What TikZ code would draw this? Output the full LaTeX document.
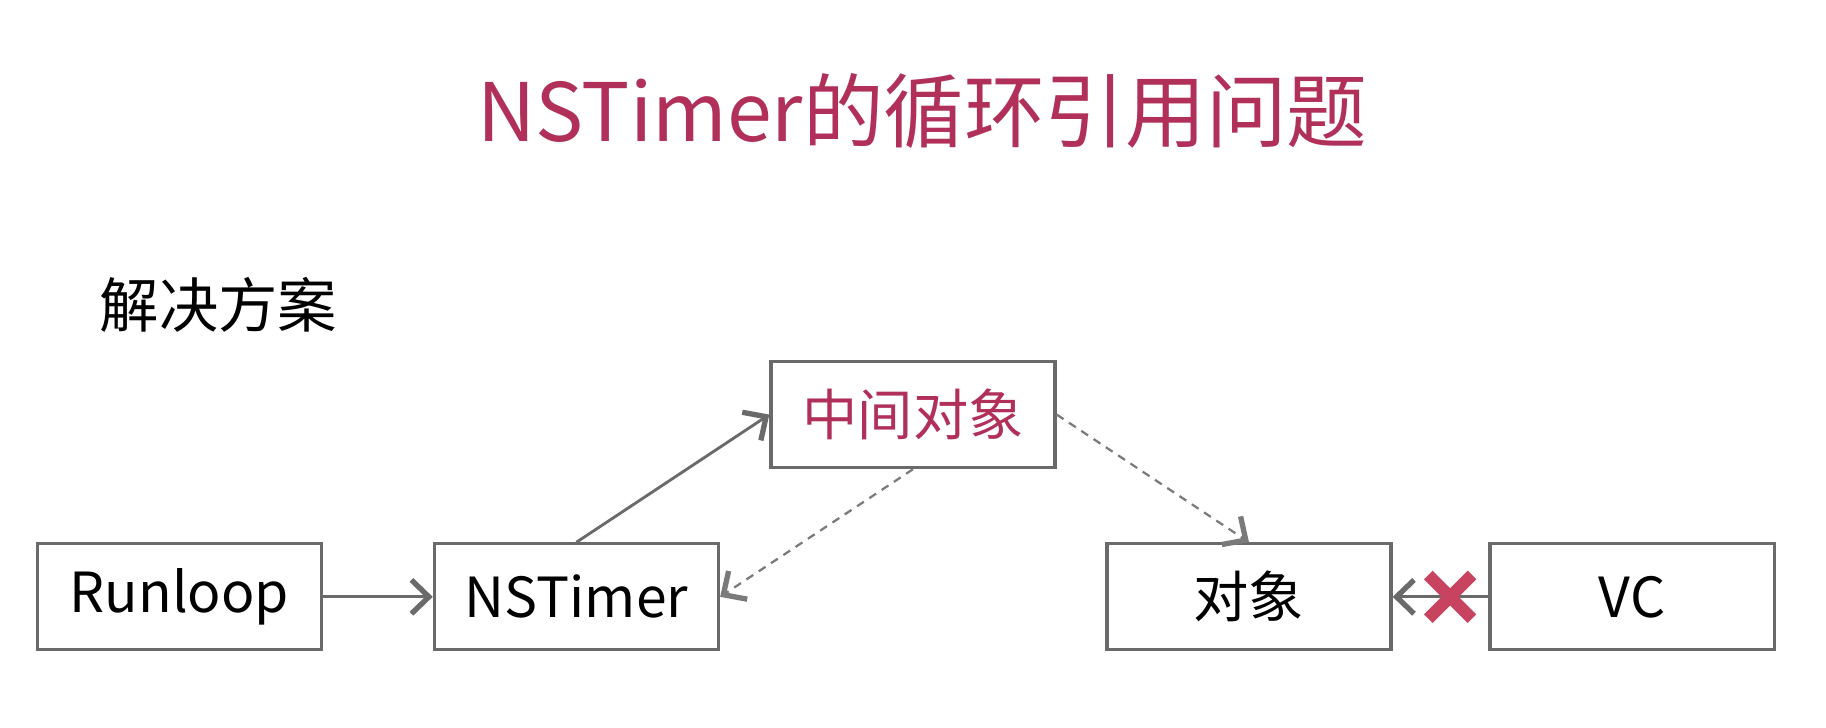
\documentclass[tikz,border=0pt]{standalone}
\usepackage{fontspec}
\setmainfont{Noto Sans CJK SC}
\usepackage{xcolor}
\definecolor{titlered}{HTML}{B0305A}
\definecolor{crossred}{HTML}{C8435F}
\definecolor{linegray}{HTML}{6A6A6A}
\definecolor{dashgray}{HTML}{7A7A7A}
\usepackage{tikz}
\usetikzlibrary{arrows.meta, shapes.misc}

\begin{document}
\begin{tikzpicture}[
    objbox/.style={draw=linegray, line width=0.8pt, minimum width=2.44cm,
      minimum height=0.91cm, inner sep=0pt, font=\fontsize{13.5}{16}\selectfont},
    strongref/.style={draw=linegray, line width=0.7pt,
      -{Straight Barb[length=1.5mm, width=2.9mm, line width=1.3pt]}},
    weakref/.style={strongref, draw=dashgray, line width=0.55pt,
      dash pattern=on 2pt off 1.6pt},
    crossx/.style={cross out, draw=crossred, line width=3pt,
      minimum size=0.27cm, inner sep=0pt}
  ]
    \useasboundingbox (0,0) rectangle (15.68, 6.25);
    % Title
    \node[font=\fontsize{19.7}{24}\selectfont, color=titlered] (title) at (7.92, 5.30)
      {NSTimer的循环引用问题};
    % Subtitle
    \node[font=\fontsize{14.5}{18}\selectfont, anchor=west, inner sep=0pt] (plan)
      at (0.85, 3.63) {解决方案};
    % Boxes
    \node[objbox] (runloop) at (1.54, 1.125) {Runloop};
    \node[objbox] (timer) at (4.95, 1.125) {NSTimer};
    \node[objbox, text=titlered] (proxy) at (7.84, 2.69) {中间对象};
    \node[objbox] (target) at (10.725, 1.125) {对象};
    \node[objbox] (vc) at (14.015, 1.125) {VC};
    % Strong references
    \draw[strongref] (runloop.east) -- (timer.west);
    \draw[strongref] (timer.north) -- (proxy.west);
    \draw[strongref] (vc.west) -- node[crossx, pos=0.4] (cut) {} (target.east);
    % Weak references
    \draw[weakref] (proxy.south) -- (timer.east);
    \draw[weakref] (proxy.east) -- (target.north);
  \end{tikzpicture}
\end{document}
